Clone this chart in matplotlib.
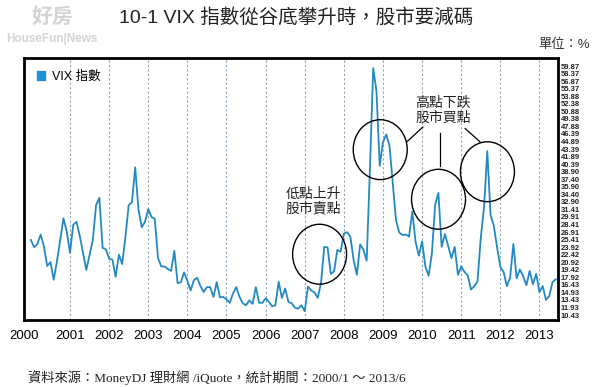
import matplotlib
matplotlib.use("Agg")
import matplotlib.pyplot as plt
import numpy as np
from matplotlib.patches import Ellipse, Patch

plt.rcParams['font.family'] = ['Liberation Sans', 'Noto Sans CJK TC']

# VIX 月收盤 2000/1 ~ 2013/6
vix_2000 = [24.9, 23.4, 24.1, 26.0, 23.6, 19.6, 20.4, 16.8, 20.6, 25.0, 29.3, 26.6]
vix_2001 = [22.3, 28.0, 28.6, 25.7, 22.2, 18.8, 21.8, 24.9, 32.0, 33.5, 23.3, 23.0]
vix_2002 = [21.1, 20.9, 17.4, 21.9, 20.0, 25.5, 32.0, 32.6, 39.7, 31.1, 27.5, 28.6]
vix_2003 = [31.2, 29.6, 29.2, 21.2, 19.5, 19.5, 19.0, 18.6, 22.7, 16.1, 16.3, 18.3]
vix_2004 = [16.6, 14.6, 16.7, 17.2, 15.5, 14.3, 15.3, 15.3, 13.3, 16.3, 13.2, 13.3]
vix_2005 = [12.8, 12.1, 14.0, 15.3, 13.3, 12.0, 11.6, 12.6, 11.9, 15.3, 12.1, 12.1]
vix_2006 = [13.0, 12.3, 11.4, 11.6, 16.4, 13.1, 15.0, 12.3, 12.0, 11.1, 10.9, 11.6]
vix_2007 = [10.4, 15.4, 14.6, 14.2, 13.1, 16.2, 23.5, 23.4, 18.0, 18.5, 22.9, 22.5]
vix_2008 = [26.2, 26.5, 25.6, 20.8, 17.8, 24.0, 22.9, 20.7, 39.4, 59.9, 55.3, 40.0]
vix_2009 = [44.8, 46.4, 44.1, 36.5, 28.9, 26.4, 25.9, 26.0, 25.6, 30.7, 24.5, 21.7]
vix_2010 = [24.6, 19.5, 17.6, 22.1, 32.1, 34.5, 23.5, 26.1, 23.7, 21.2, 23.5, 17.8]
vix_2011 = [19.5, 18.4, 17.7, 14.8, 15.5, 16.5, 25.3, 31.6, 43.0, 30.0, 27.8, 23.4]
vix_2012 = [19.4, 18.4, 15.5, 17.2, 24.1, 17.1, 18.9, 17.5, 15.7, 18.6, 15.9, 18.0]
vix_2013 = [14.3, 15.5, 12.7, 13.5, 16.3, 16.9]

years = list(range(2000, 2014))
ytick_labels = ["59.87", "58.37", "56.87", "55.37", "53.88", "52.38", "50.88", "49.38",
                "47.88", "46.39", "44.89", "43.39", "41.89", "40.39", "38.90", "37.40",
                "35.90", "34.40", "32.90", "31.41", "29.91", "28.41", "26.91", "25.41",
                "23.92", "22.42", "20.92", "19.42", "17.92", "16.43", "14.93", "13.43",
                "11.93", "10.43"]

# 圈圈標註 (年, 值)
circles = [(2007.38, 22.0), (2008.93, 43.3), (2010.42, 33.2), (2011.67, 38.8)]

vix = np.array(vix_2000 + vix_2001 + vix_2002 + vix_2003 + vix_2004 + vix_2005 + vix_2006
               + vix_2007 + vix_2008 + vix_2009 + vix_2010 + vix_2011 + vix_2012 + vix_2013)
t = 2000 + np.arange(len(vix)) / 12

fig = plt.figure(figsize=(6, 3.87), dpi=100)
ax = fig.add_axes([24 / 600, 67 / 387, 534 / 600, 262 / 387])

xmin, xmax = 1999.824, 2013.474
ax.set_xlim(xmin, xmax)
ax.set_ylim(8.60, 61.97)

for y in years[1:]:
    ax.axvline(y, color='#8da5b8', lw=0.8, ls=(0, (2, 2)), zorder=1)

ax.plot(t, vix, color='#2389c4', lw=1.3, zorder=3)

for s in ax.spines.values():
    s.set_color('black')
    s.set_linewidth(2)

ax.set_xticks([xmin] + years[1:])
ax.set_xticklabels([str(y) for y in years], fontsize=9.5)
ax.tick_params(axis='x', length=0, pad=7)
ax.set_yticks([])

# 右側刻度
ax2 = ax.twinx()
ax2.set_ylim(9.44, 61.46)
ax2.set_yticks([float(v) for v in ytick_labels])
ax2.set_yticklabels(ytick_labels, fontsize=5.5, fontweight='bold', color='#222222')
ax2.tick_params(axis='y', length=0, pad=2)
for s in ax2.spines.values():
    s.set_visible(False)

# 圈圈
for cx, cy in circles:
    ax.add_patch(Ellipse((cx, cy), 1.38, 12.2, fill=False, ec='black', lw=1.0, zorder=4))

ax.text(2007.22, 32.8, "低點上升\n股市賣點", ha='center', va='center', fontsize=10,
        linespacing=1.05, color='#222222')
ax.text(2010.54, 51.3, "高點下跌\n股市買點", ha='center', va='center', fontsize=10,
        linespacing=1.05, color='#222222')
ax.plot([2010.02, 2009.61], [47.9, 44.9], color='black', lw=0.9)
ax.plot([2010.47, 2010.47], [46.7, 39.9], color='black', lw=0.9)
ax.plot([2011.10, 2011.48], [47.6, 44.9], color='black', lw=0.9)

ax.legend(handles=[Patch(color='#1e90d8', label='VIX 指數')], loc='upper left',
          frameon=False, fontsize=9, handlelength=0.7, handleheight=0.7,
          handletextpad=0.5, borderaxespad=0.6)

fig.text(0.493, 1 - 17 / 387, "10-1 VIX 指數從谷底攀升時，股市要減碼", ha='center',
         va='center', fontsize=14, color='#222222')
fig.text(590 / 600, 1 - 45 / 387, "單位：%", ha='right', va='center', fontsize=9.5,
         color='#333333')

# 浮水印
fig.text(52 / 600, 1 - 17 / 387, "好房", ha='center', va='center', fontsize=15,
         fontweight='bold', color='#d4d4d4')
fig.text(6 / 600, 1 - 39 / 387, "HouseFun|News", ha='left', va='center', fontsize=8.5,
         fontweight='bold', color='#d4d4d4')

fig.text(28 / 600, 1 - 378 / 387, "資料來源：MoneyDJ 理財網 /iQuote，統計期間：2000/1 ～ 2013/6",
         ha='left', va='center', fontsize=9.5, color='#222222',
         family=['Liberation Serif', 'Noto Sans CJK TC'])

fig.savefig("out.png", dpi=100)
